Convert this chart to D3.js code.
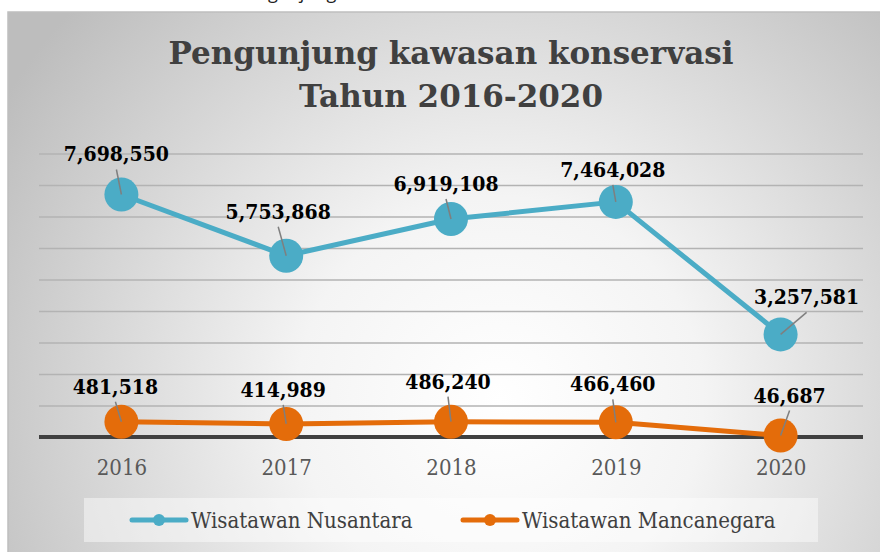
<!DOCTYPE html>
<meta charset="utf-8">
<style>
  body { margin: 0; background: #fff; }
  .lbl { font-family: "DejaVu Serif Condensed", "DejaVu Serif", serif; font-stretch: condensed; }
</style>
<svg width="880" height="552"></svg>
<script src="https://cdn.jsdelivr.net/npm/d3@7"></script>
<script>

var years = ["2016", "2017", "2018", "2019", "2020"];
var nusantara = [7698550, 5753868, 6919108, 7464028, 3257581];
var mancanegara = [481518, 414989, 486240, 466460, 46687];
var seriesNames = ["Wisatawan Nusantara", "Wisatawan Mancanegara"];
var yTicks = [0, 1000000, 2000000, 3000000, 4000000, 5000000, 6000000, 7000000, 8000000, 9000000];

// where the data labels sit relative to their point (dx, dy of baseline)
var nusOffsets = [[-5, -33], [-8, -37], [-5, -28], [-3, -25], [26, -30]];
var manOffsets = [[-6, -28], [-3, -27], [-3, -33], [-3, -31], [9, -33]];

var svg = d3.select("svg");
var fmt = d3.format(",");

var defs = svg.append("defs");
var grad = defs.append("radialGradient")
  .attr("id", "bg")
  .attr("gradientUnits", "userSpaceOnUse")
  .attr("cx", 500).attr("cy", 400).attr("r", 580);
grad.append("stop").attr("offset", "0").attr("stop-color", "#ffffff");
grad.append("stop").attr("offset", "0.35").attr("stop-color", "#f4f4f4");
grad.append("stop").attr("offset", "1").attr("stop-color", "#bdbdbd");

// text of the page above the chart, only its lower part shows
svg.append("text")
  .attr("x", 236).attr("y", -1)
  .attr("font-family", "Open Sans, sans-serif")
  .attr("font-size", 18)
  .attr("fill", "#222")
  .text("Pengunjung");

// chart area
svg.append("rect")
  .attr("x", 8).attr("y", 12)
  .attr("width", 880).attr("height", 560)
  .attr("fill", "url(#bg)")
  .attr("stroke", "#bfbfbf")
  .attr("stroke-width", 1.5);

// title
var title = svg.append("text")
  .attr("text-anchor", "middle")
  .attr("font-family", "DejaVu Serif, serif")
  .attr("font-weight", "bold")
  .attr("font-size", 31)
  .attr("fill", "#404040");
title.append("tspan").attr("x", 451).attr("y", 64).text("Pengunjung kawasan konservasi");
title.append("tspan").attr("x", 451).attr("y", 107).text("Tahun 2016-2020");

var x = d3.scalePoint().domain(years).range([39, 863]).padding(0.5);
var y = d3.scaleLinear().domain([0, 9000000]).range([437, 153.5]);

// gridlines
svg.append("g")
  .attr("transform", "translate(39,0)")
  .call(d3.axisLeft(y).tickValues(yTicks).tickSize(-824).tickFormat(""))
  .call(function(g) {
    g.select(".domain").remove();
    g.selectAll(".tick line").attr("stroke", "#b3b3b3").attr("stroke-width", 1.3);
  });

// category axis
svg.append("g")
  .attr("transform", "translate(0,437)")
  .call(d3.axisBottom(x).tickSize(0).tickPadding(22))
  .call(function(g) {
    g.select(".domain").attr("stroke", "#404040").attr("stroke-width", 4)
      .attr("d", "M39,0H863");
    g.selectAll(".tick text")
      .attr("class", "lbl")
      .attr("font-size", 22)
      .attr("fill", "#595959")
      .attr("dy", "0.71em");
  });

var line = d3.line()
  .x(function(d, i) { return x(years[i]); })
  .y(function(d) { return y(d); });

function drawSeries(values, offsets, color) {
  svg.append("path")
    .datum(values)
    .attr("fill", "none")
    .attr("stroke", color)
    .attr("stroke-width", 5)
    .attr("stroke-linejoin", "round")
    .attr("d", line);

  svg.append("g").selectAll("circle")
    .data(values)
    .enter().append("circle")
    .attr("cx", function(d, i) { return x(years[i]); })
    .attr("cy", function(d) { return y(d); })
    .attr("r", 17)
    .attr("fill", color);

  // leader lines
  svg.append("g").selectAll("line")
    .data(values)
    .enter().append("line")
    .attr("x1", function(d, i) { return x(years[i]) + offsets[i][0]; })
    .attr("y1", function(d, i) { return y(d) + offsets[i][1] + 8; })
    .attr("x2", function(d, i) { return x(years[i]); })
    .attr("y2", function(d) { return y(d); })
    .attr("stroke", "#7f7f7f")
    .attr("stroke-width", 1.5);

  svg.append("g").selectAll("text")
    .data(values)
    .enter().append("text")
    .attr("class", "lbl")
    .attr("text-anchor", "middle")
    .attr("font-weight", "bold")
    .attr("font-size", 21)
    .attr("fill", "#000")
    .attr("x", function(d, i) { return x(years[i]) + offsets[i][0]; })
    .attr("y", function(d, i) { return y(d) + offsets[i][1]; })
    .text(function(d) { return fmt(d); });
}

drawSeries(nusantara, nusOffsets, "#4bacc6");
drawSeries(mancanegara, manOffsets, "#e46c0a");

// legend
svg.append("rect")
  .attr("x", 84).attr("y", 498)
  .attr("width", 734).attr("height", 44)
  .attr("fill", "#ffffff")
  .attr("fill-opacity", 0.45);

var legendX = [132, 463];
var colors = ["#4bacc6", "#e46c0a"];
var legend = svg.append("g").selectAll("g")
  .data(seriesNames)
  .enter().append("g")
  .attr("transform", function(d, i) { return "translate(" + legendX[i] + ",520)"; });

legend.append("line")
  .attr("x1", 0).attr("x2", 54)
  .attr("stroke", function(d, i) { return colors[i]; })
  .attr("stroke-width", 5)
  .attr("stroke-linecap", "round");
legend.append("circle")
  .attr("cx", 27).attr("r", 6)
  .attr("fill", function(d, i) { return colors[i]; });
legend.append("text")
  .attr("class", "lbl")
  .attr("x", 59).attr("y", 8)
  .attr("font-size", 22)
  .attr("fill", "#404040")
  .text(function(d) { return d; });

</script>
